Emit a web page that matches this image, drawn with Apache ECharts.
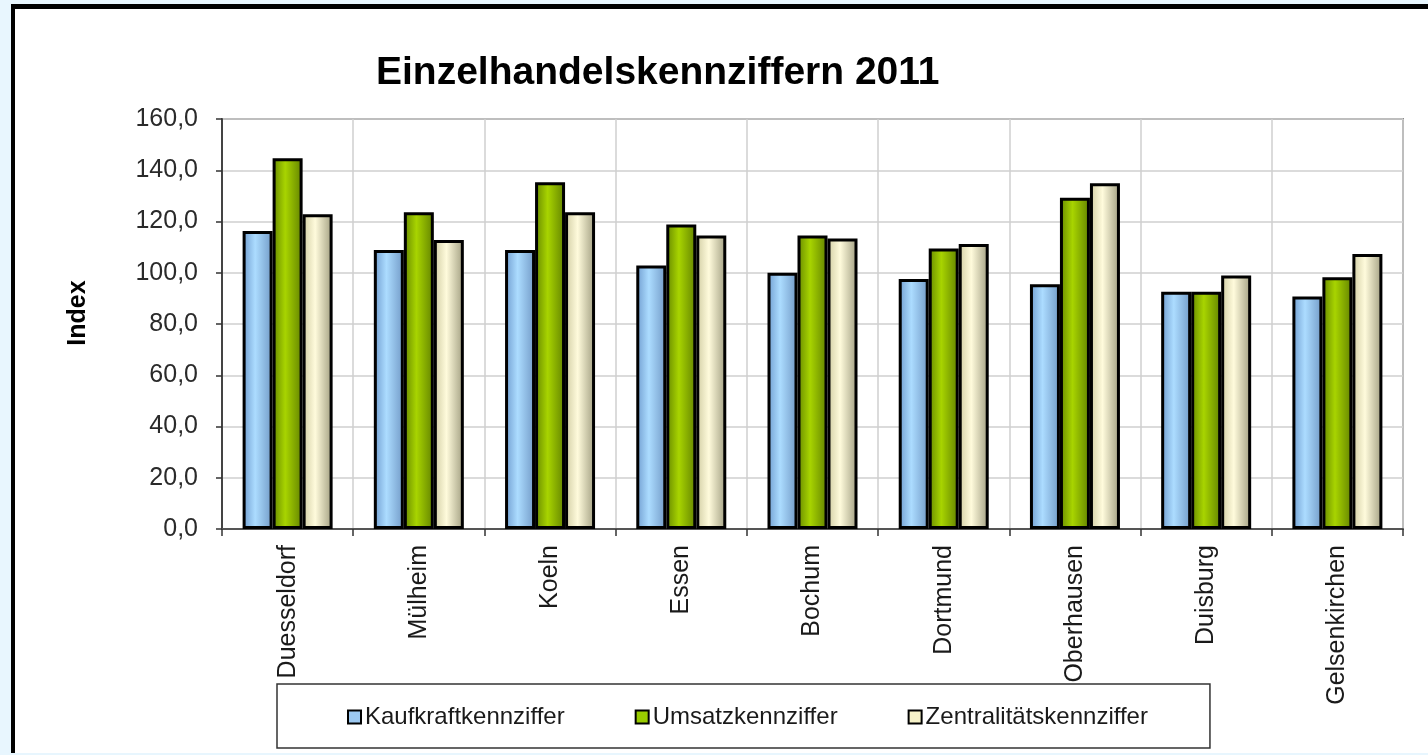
<!DOCTYPE html>
<html>
<head>
<meta charset="utf-8">
<style>
  html, body { margin: 0; padding: 0; background: #e8f6fe; }
  #frame { position: absolute; left: 11px; top: 4px; width: 1417px; height: 749px;
    background: #fff; border-top: 5px solid #000; border-left: 4px solid #000; box-sizing: border-box; }
  #chart { position: absolute; left: 0; top: 0; width: 1428px; height: 755px; }
</style>
<script src="https://cdn.jsdelivr.net/npm/echarts@6/dist/echarts.min.js"></script>
</head>
<body>
<div id="frame"></div>
<div id="chart"></div>
<script>
const cities = ['Duesseldorf', 'Mülheim', 'Koeln', 'Essen', 'Bochum', 'Dortmund', 'Oberhausen', 'Duisburg', 'Gelsenkirchen']
const kaufkraft = [116.3, 108.9, 108.9, 102.8, 100.0, 97.6, 95.5, 92.6, 90.7]
const umsatz = [144.7, 123.6, 135.3, 118.8, 114.5, 109.5, 129.3, 92.6, 98.2]
const zentralitaet = [122.8, 112.8, 123.6, 114.5, 113.4, 111.2, 134.9, 98.9, 107.3]

const font = "'Liberation Sans', Arial, sans-serif"

// zylinderartiger Verlauf, links dunkel, Mitte hell
function shade(dark, light, darkR)
{
  return new echarts.graphic.LinearGradient(0, 0, 1, 0, [
    { offset: 0, color: dark },
    { offset: 0.42, color: light },
    { offset: 1, color: darkR }
  ])
}

const seriesInit = (name, data, color, legendColor) =>
{
  return {
    name,
    type: 'bar',
    data,
    barWidth: 30,
    barGap: '0%',
    animation: false,
    itemStyle: { color, borderColor: '#000', borderWidth: 3 },
    legendColor
  }
}

const chart = echarts.init(document.getElementById('chart'))
const series = [
  seriesInit('Kaufkraftkennziffer', kaufkraft, shade('#6f9ccf', '#acdcff', '#7199c6'), '#9cc8f0'),
  seriesInit('Umsatzkennziffer', umsatz, shade('#668800', '#a8d400', '#628200'), '#99cc00'),
  seriesInit('Zentralitätskennziffer', zentralitaet, shade('#d0cca2', '#fffbdc', '#a09d80'), '#f6f2c8')
]

chart.setOption({
  backgroundColor: 'transparent',
  textStyle: { fontFamily: font },
  title: {
    text: 'Einzelhandelskennziffern 2011',
    left: 376,
    top: 54,
    padding: 0,
    textStyle: { fontSize: 39, fontWeight: 'bold', color: '#000', fontFamily: font }
  },
  legend: {
    left: 277,
    top: 684,
    padding: [21, 62, 19, 70],
    itemGap: 70,
    itemWidth: 13,
    itemHeight: 13,
    icon: 'rect',
    borderColor: '#333',
    borderWidth: 1.5,
    backgroundColor: '#fff',
    textStyle: { fontSize: 24, color: '#1a1a1a', fontFamily: font, padding: [4, 0, 0, -1] },
    data: series.map(s => ({ name: s.name, itemStyle: { color: s.legendColor, borderColor: '#000', borderWidth: 2 } }))
  },
  grid: {
    left: 222,
    right: 25,
    top: 119,
    bottom: 226,
    show: true,
    borderColor: '#8c8c8c',
    borderWidth: 2
  },
  xAxis: {
    type: 'category',
    data: cities,
    boundaryGap: true,
    axisLine: { lineStyle: { color: '#555', width: 2 } },
    axisTick: { show: true, length: 7, lineStyle: { color: '#333', width: 1.5 } },
    axisLabel: { rotate: 90, margin: 16, fontSize: 25, color: '#1a1a1a', interval: 0 },
    splitLine: { show: true, lineStyle: { color: '#cfcfcf', width: 1.5 } }
  },
  yAxis: {
    type: 'value',
    min: 0,
    max: 160,
    interval: 20,
    name: 'Index',
    nameLocation: 'middle',
    nameRotate: 90,
    nameGap: 131,
    nameTextStyle: { fontSize: 25, fontWeight: 'bold', color: '#000', fontFamily: font, padding: [0, 0, 0, 22] },
    axisLine: { show: true, lineStyle: { color: '#444', width: 2 } },
    axisTick: { show: true, length: 6, lineStyle: { color: '#333', width: 1.5 } },
    axisLabel: {
      fontSize: 25,
      color: '#2a2a2a',
      margin: 24,
      formatter: v => v.toFixed(1).replace('.', ',')
    },
    splitLine: { show: true, lineStyle: { color: '#cfcfcf', width: 1.5 } }
  },
  series
})
</script>
</body>
</html>
